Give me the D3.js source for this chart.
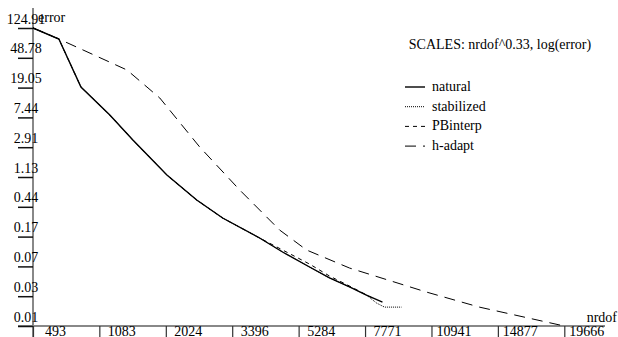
<!DOCTYPE html>
<html>
<head>
<meta charset="utf-8">
<script src="https://cdn.jsdelivr.net/npm/d3@7"></script>
<style>
  body { margin: 0; background: #fff; }
  svg { display: block; }
  svg text { font-family: "Liberation Serif", "DejaVu Serif", serif; }
</style>
</head>
<body>
<svg width="618" height="337"></svg>
<script>
// x ticks (nrdof) and y tick labels (error)
const xTicks = [493, 1083, 2024, 3396, 5284, 7771, 10941, 14877, 19666];
const yTickLabels = ['124.91', '48.78', '19.05', '7.44', '2.91', '1.13', '0.44', '0.17', '0.07', '0.03', '0.01'];

// series: [nrdof, error]
const natural = [
  [493, 124.91], [687, 88.3], [888, 19.4], [1206, 8.02], [1509, 3.64], [2043, 1.209],
  [2604, 0.549], [3169, 0.311], [4108, 0.1656], [4776, 0.1064], [5649, 0.0663],
  [6360, 0.0469], [7131, 0.0353], [7830, 0.0274], [8533, 0.0219]
];
const stabilized = [
  [493, 124.91], [687, 88.3], [888, 19.4], [1206, 8.02], [1509, 3.64], [2043, 1.209],
  [2604, 0.549], [3169, 0.311], [4108, 0.1656], [4776, 0.1064], [5649, 0.0663],
  [6360, 0.0469], [7131, 0.0353], [7830, 0.0274], [8266, 0.0213], [8623, 0.0187], [9417, 0.0187]
];
const pbinterp = [
  [493, 124.91], [687, 88.3], [888, 19.4], [1206, 8.02], [1509, 3.64], [2043, 1.209],
  [2604, 0.549], [3169, 0.311], [4108, 0.1656], [4776, 0.1134], [5649, 0.0728],
  [6360, 0.0499], [7131, 0.0364], [8176, 0.0241]
];
const hadapt = [
  [493, 124.91], [687, 88.3], [1427, 33.2], [1922, 13.73], [2666, 2.92], [3582, 0.753],
  [4686, 0.213], [5547, 0.1134], [7131, 0.0642], [10673, 0.0301], [13700, 0.0187], [19666, 0.0103]
];

const yMax = 124.91, yMin = 0.010308;

const svg = d3.select('svg');

const x = d3.scalePow().exponent(0.33).domain([493, 19666]).range([33, 564.3]);
const y = d3.scaleLog().domain([yMin, yMax]).range([326, 28]);

const ratio = Math.pow(yMax / yMin, 1 / 10);
const yTickVals = d3.range(11).map(i => yMax / Math.pow(ratio, i));

// axis lines
svg.append('line').attr('x1', 33).attr('x2', 33).attr('y1', 8).attr('y2', 337)
  .attr('stroke', '#888').attr('stroke-width', 2);
svg.append('line').attr('x1', 18).attr('x2', 605).attr('y1', 326).attr('y2', 326)
  .attr('stroke', '#888').attr('stroke-width', 2);

// y axis
const yAxis = svg.append('g').attr('transform', 'translate(33,0)')
  .call(d3.axisLeft(y).tickValues(yTickVals).tickSize(15).tickFormat((d, i) => yTickLabels[i]));
yAxis.attr('font-family', null).attr('font-size', 14);
yAxis.select('.domain').remove();
yAxis.selectAll('.tick line').attr('stroke', '#111').attr('stroke-width', 1.5);
yAxis.selectAll('.tick text')
  .attr('x', -7).attr('y', -5).attr('dy', 0)
  .attr('text-anchor', 'middle').attr('fill', '#000');

// x axis
const xAxis = svg.append('g').attr('transform', 'translate(0,326)')
  .call(d3.axisBottom(x).tickValues(xTicks).tickSize(11).tickFormat(d3.format('d')));
xAxis.attr('font-family', null).attr('font-size', 14);
xAxis.select('.domain').remove();
xAxis.selectAll('.tick line').attr('stroke', '#333').attr('stroke-width', 1.2);
xAxis.selectAll('.tick text')
  .attr('x', 22).attr('y', 10).attr('dy', 0)
  .attr('text-anchor', 'middle').attr('fill', '#000');

// axis titles
svg.append('text').attr('x', 38).attr('y', 22).attr('font-size', 14).text('error');
svg.append('text').attr('x', 617).attr('y', 322).attr('font-size', 14)
  .attr('text-anchor', 'end').text('nrdof');
svg.append('text').attr('x', 500).attr('y', 49).attr('font-size', 14)
  .attr('text-anchor', 'middle').text('SCALES: nrdof^0.33, log(error)');

// series
const series = [
  {name: 'natural', data: natural, dash: null, width: 1.4},
  {name: 'stabilized', data: stabilized, dash: '1,1', width: 1},
  {name: 'PBinterp', data: pbinterp, dash: '4,4', width: 1},
  {name: 'h-adapt', data: hadapt, dash: '11,7', width: 1}
];

const line = d3.line().x(d => x(d[0])).y(d => y(d[1]));

svg.selectAll('.series')
  .data(series)
  .enter()
  .append('path')
  .classed('series', true)
  .attr('d', s => line(s.data))
  .attr('fill', 'none')
  .attr('stroke', '#000')
  .attr('stroke-width', s => s.width)
  .attr('stroke-dasharray', s => s.dash);

// legend
const legend = svg.selectAll('.legend')
  .data(series)
  .enter()
  .append('g')
  .classed('legend', true)
  .attr('transform', (s, i) => `translate(405,${87 + i * 19.7})`);
legend.append('line').attr('x1', 0).attr('x2', 20).attr('y1', 0).attr('y2', 0)
  .attr('stroke', '#000')
  .attr('stroke-width', s => s.width)
  .attr('stroke-dasharray', s => s.dash);
legend.append('text').attr('x', 27).attr('y', 4).attr('font-size', 14).text(s => s.name);
</script>
</body>
</html>
